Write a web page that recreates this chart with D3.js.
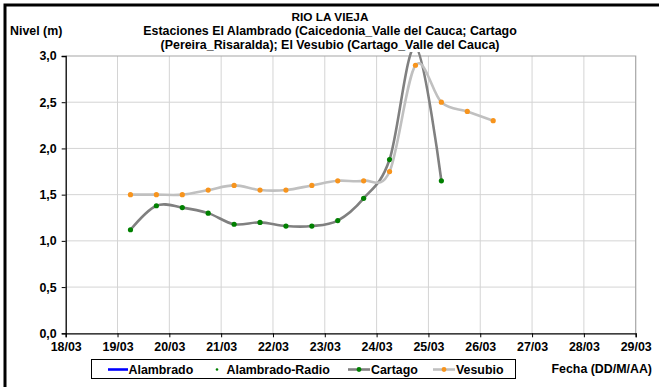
<!DOCTYPE html>
<html>
<head>
<meta charset="utf-8">
<script src="https://cdn.jsdelivr.net/npm/d3@7"></script>
<style>
  body { margin: 0; background: #fff; }
  svg text { font-family: "Liberation Sans", Arial, sans-serif; font-weight: bold; }
</style>
</head>
<body>
<div id="chart"></div>
<script>
// fechas de las lecturas (marzo), cada 12 horas
var cartagoDates = ["2011-03-19T06:00","2011-03-19T18:00","2011-03-20T06:00","2011-03-20T18:00",
  "2011-03-21T06:00","2011-03-21T18:00","2011-03-22T06:00","2011-03-22T18:00",
  "2011-03-23T06:00","2011-03-23T18:00","2011-03-24T06:00","2011-03-24T18:00","2011-03-25T06:00"];
var cartagoValues = [1.12, 1.38, 1.36, 1.30, 1.18, 1.20, 1.16, 1.16, 1.22, 1.46, 1.88, 3.10, 1.65];

var vesubioDates = ["2011-03-19T06:00","2011-03-19T18:00","2011-03-20T06:00","2011-03-20T18:00",
  "2011-03-21T06:00","2011-03-21T18:00","2011-03-22T06:00","2011-03-22T18:00",
  "2011-03-23T06:00","2011-03-23T18:00","2011-03-24T06:00","2011-03-24T18:00",
  "2011-03-25T06:00","2011-03-25T18:00","2011-03-26T06:00"];
var vesubioValues = [1.50, 1.50, 1.50, 1.55, 1.60, 1.55, 1.55, 1.60, 1.65, 1.65, 1.75, 2.90, 2.50, 2.40, 2.30];

// Alambrado y Alambrado-Radio sin datos en el periodo
var alambradoValues = [];
var alambradoRadioValues = [];

var yTicks = [0, 0.5, 1, 1.5, 2, 2.5, 3];
var titleLines = ["RIO LA VIEJA",
  "Estaciones El Alambrado (Caicedonia_Valle del Cauca; Cartago",
  "(Pereira_Risaralda);  El Vesubio (Cartago_Valle del Cauca)"];
var legendNames = ["Alambrado", "Alambrado-Radio", "Cartago", "Vesubio"];

var W = 659, H = 387;
var pLeft = 65.7, pRight = 635.7, pTop = 56, pBottom = 333.3;
var fs = "12.4px";

var svg = d3.select("#chart").append("svg")
  .attr("width", W).attr("height", H);

var parse = d3.timeParse("%Y-%m-%dT%H:%M");
var x = d3.scaleTime()
  .domain([new Date(2011, 2, 18), new Date(2011, 2, 29)])
  .range([pLeft, pRight]);
var y = d3.scaleLinear().domain([0, 3]).range([pBottom, pTop]);

var days = d3.timeDay.range(new Date(2011, 2, 18), new Date(2011, 2, 29, 1));

// rejilla
svg.append("g").selectAll("line").data(yTicks.slice(1, -1)).enter().append("line")
  .attr("x1", pLeft).attr("x2", pRight)
  .attr("y1", function (d) { return y(d); }).attr("y2", function (d) { return y(d); })
  .attr("stroke", "#d4d4d4").attr("stroke-width", 1);
svg.append("g").selectAll("line").data(days.slice(1, -1)).enter().append("line")
  .attr("y1", pTop).attr("y2", pBottom)
  .attr("x1", function (d) { return x(d); }).attr("x2", function (d) { return x(d); })
  .attr("stroke", "#d4d4d4").attr("stroke-width", 1);
// borde del area de trazado
svg.append("path")
  .attr("d", "M" + pLeft + "," + pTop + "H" + pRight + "V" + pBottom)
  .attr("fill", "none").attr("stroke", "#a6a6a6").attr("stroke-width", 1.2);

// ejes
var yAxis = svg.append("g")
  .attr("transform", "translate(" + pLeft + ",0)")
  .call(d3.axisLeft(y).tickValues(yTicks).tickSize(4).tickPadding(5)
    .tickFormat(function (d) { return d3.format(".1f")(d).replace(".", ","); }));
var xAxis = svg.append("g")
  .attr("transform", "translate(0," + pBottom + ")")
  .call(d3.axisBottom(x).tickValues(days).tickSize(4).tickPadding(5)
    .tickFormat(d3.timeFormat("%d/%m")));
[yAxis, xAxis].forEach(function (a) {
  a.select(".domain").attr("stroke", "#000").attr("stroke-width", 1.3);
  a.selectAll(".tick line").attr("stroke", "#000");
  a.selectAll("text").attr("fill", "#000").style("font-size", fs)
    .style("font-family", "'Liberation Sans', Arial, sans-serif").style("font-weight", "bold");
});

// series
svg.append("clipPath").attr("id", "plotclip")
  .append("rect").attr("x", pLeft).attr("y", pTop - 4).attr("width", pRight - pLeft).attr("height", pBottom - pTop + 4);

var line = d3.line()
  .x(function (d) { return x(d.date); })
  .y(function (d) { return y(d.value); })
  .curve(d3.curveCatmullRom.alpha(0));

function series(dates, values) {
  return dates.map(function (d, i) { return { date: parse(d), value: values[i] }; });
}
var cartago = series(cartagoDates, cartagoValues);
var vesubio = series(vesubioDates, vesubioValues);

var plot = svg.append("g").attr("clip-path", "url(#plotclip)");
plot.append("path").datum(cartago).attr("d", line)
  .attr("fill", "none").attr("stroke", "#808080").attr("stroke-width", 2.6);
plot.selectAll(".pc").data(cartago.filter(function (d) { return d.value <= 3; })).enter().append("circle")
  .attr("cx", function (d) { return x(d.date); }).attr("cy", function (d) { return y(d.value); })
  .attr("r", 2.6).attr("fill", "#008000");
plot.append("path").datum(vesubio).attr("d", line)
  .attr("fill", "none").attr("stroke", "#c0c0c0").attr("stroke-width", 2.6);
plot.selectAll(".pv").data(vesubio).enter().append("circle")
  .attr("cx", function (d) { return x(d.date); }).attr("cy", function (d) { return y(d.value); })
  .attr("r", 2.6).attr("fill", "#f7941d");

// titulos
svg.append("g").selectAll("text").data(titleLines).enter().append("text")
  .attr("x", 330).attr("y", function (d, i) { return 21 + i * 14; })
  .attr("text-anchor", "middle").style("font-size", function (d, i) { return i === 0 ? "11.8px" : fs; })
  .text(function (d) { return d; });
svg.append("text").attr("x", 10).attr("y", 35).style("font-size", fs).text("Nivel (m)");
svg.append("text").attr("x", 652).attr("y", 373).attr("text-anchor", "end")
  .style("font-size", fs).text("Fecha (DD/M/AA)");

// leyenda
var lg = svg.append("g");
lg.append("rect").attr("x", 91.5).attr("y", 359.5).attr("width", 424).attr("height", 19)
  .attr("fill", "#fff").attr("stroke", "#000").attr("stroke-width", 1);
var ly = 369.5;
lg.append("line").attr("x1", 108).attr("x2", 128).attr("y1", ly).attr("y2", ly)
  .attr("stroke", "#0000ff").attr("stroke-width", 2.6);
lg.append("circle").attr("cx", 217).attr("cy", ly).attr("r", 1.3).attr("fill", "#008000");
lg.append("line").attr("x1", 348).attr("x2", 370).attr("y1", ly).attr("y2", ly)
  .attr("stroke", "#808080").attr("stroke-width", 2.6);
lg.append("circle").attr("cx", 359).attr("cy", ly).attr("r", 2.4).attr("fill", "#008000");
lg.append("line").attr("x1", 433).attr("x2", 455).attr("y1", ly).attr("y2", ly)
  .attr("stroke", "#c0c0c0").attr("stroke-width", 2.6);
lg.append("circle").attr("cx", 444).attr("cy", ly).attr("r", 2.4).attr("fill", "#f7941d");
var textX = [128.5, 226.5, 371, 456];
lg.selectAll(".lt").data(legendNames).enter().append("text")
  .attr("x", function (d, i) { return textX[i]; }).attr("y", 374)
  .style("font-size", fs).text(function (d) { return d; });

// marco
svg.append("rect").attr("x", 5).attr("y", 5).attr("width", 700).attr("height", 400)
  .attr("fill", "none").attr("stroke", "#000").attr("stroke-width", 3);
</script>
</body>
</html>
